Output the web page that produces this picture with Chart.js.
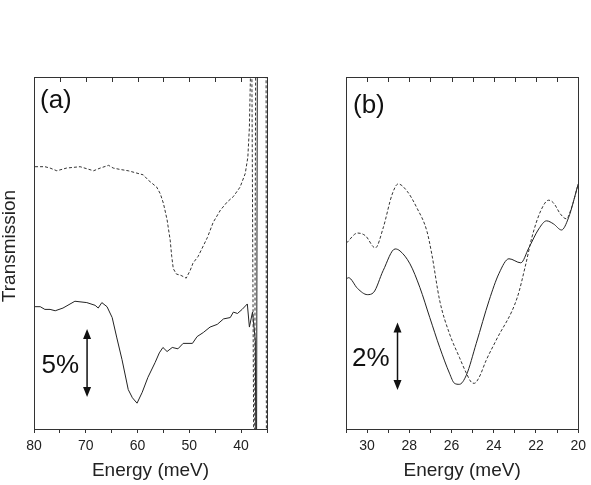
<!DOCTYPE html>
<html lang="en">
<head>
<meta charset="UTF-8">
<title>Transmission spectra</title>
<script src="https://cdn.jsdelivr.net/npm/chart.js@4"></script>
<style>
  html, body { margin: 0; padding: 0; background: #fff; }
  #wrap { position: relative; width: 591px; height: 485px; }
  canvas { position: absolute; top: 0; }
  #chartA { left: 0; }
  #chartB { left: 300px; }
</style>
</head>
<body>
<div id="wrap">
  <canvas id="chartA" width="300" height="485"></canvas>
  <canvas id="chartB" width="291" height="485"></canvas>
</div>
<script>
// panel (a): energy in meV, transmission in % (arbitrary offset)
const aDashE = [79.8, 77.9, 76.9, 75.6, 73.7, 71.1, 68.5, 67.2, 65.6, 64.7, 63.4, 61.8, 58.9, 57.9, 56.3, 55.6, 55.0, 54.3, 53.7, 53.4, 53.1, 52.5, 51.6, 50.6, 49.8, 49.3, 48.3, 46.5, 45.4, 44.0, 42.7, 41.5, 40.2, 39.2, 38.7, 38.4, 38.2, 38.1, 37.45, 37.1, 35.2, 35.1];
const aDashT = [19.3, 19.3, 19.2, 19.0, 19.2, 19.3, 19.0, 19.2, 19.4, 19.2, 19.1, 19.0, 18.7, 18.3, 17.8, 17.3, 16.6, 15.4, 13.9, 12.7, 11.8, 11.4, 11.3, 11.1, 11.7, 12.2, 12.7, 14.1, 15.2, 16.1, 16.7, 17.1, 17.8, 18.8, 20.0, 22.2, 25.9, 40, -10, 40, 40, -10];
const aSolE = [79.8, 78.8, 77.9, 76.9, 75.9, 74.4, 72.1, 69.8, 68.2, 67.6, 66.9, 65.9, 64.9, 64.0, 63.0, 61.8, 61.0, 60.1, 59.1, 58.0, 56.6, 55.8, 55.1, 54.3, 53.3, 52.2, 51.2, 49.4, 48.5, 47.3, 46.0, 44.6, 43.4, 42.1, 41.5, 40.7, 39.8, 38.8, 38.4, 37.8, 37.25, 37.06, 36.8, 35.0];
const aSolT = [9.0, 9.0, 8.8, 8.8, 8.7, 8.9, 9.4, 9.3, 9.1, 8.9, 9.3, 9.0, 8.2, 6.7, 5.1, 2.9, 2.3, 1.9, 2.7, 3.8, 4.9, 5.6, 6.0, 5.7, 6.0, 5.9, 6.3, 6.3, 6.8, 7.1, 7.5, 7.7, 8.1, 8.2, 8.6, 8.5, 8.8, 9.2, 7.5, 8.6, 6.5, -10, 40, 40];

// panel (b)
const bDashE = [30.97, 30.45, 30.08, 29.61, 29.24, 28.81, 28.53, 28.11, 27.64, 27.17, 26.94, 26.56, 26.10, 25.63, 25.30, 25.06, 24.92, 24.69, 24.36, 23.89, 22.89, 22.48, 22.20, 21.78, 21.40, 21.17, 20.84, 20.56, 20.32, 20.00];
const bDashT = [5.50, 5.79, 5.71, 5.35, 5.94, 6.94, 7.24, 7.03, 6.53, 5.85, 5.18, 3.79, 2.82, 2.12, 1.65, 1.38, 1.35, 1.53, 2.03, 2.62, 3.88, 4.88, 5.65, 6.44, 6.76, 6.68, 6.35, 6.21, 6.53, 7.24];
const bSolE = [30.97, 30.88, 30.45, 29.99, 29.70, 29.24, 28.67, 28.44, 27.97, 27.50, 27.03, 26.56, 26.10, 25.86, 25.63, 25.30, 24.83, 24.22, 23.75, 23.28, 22.72, 22.34, 21.87, 21.50, 21.17, 20.79, 20.46, 20.00];
const bSolT = [4.44, 4.47, 4.15, 3.97, 4.03, 4.68, 5.32, 5.26, 4.88, 4.18, 3.29, 2.41, 1.65, 1.35, 1.32, 1.59, 2.53, 3.8, 4.6, 5.03, 4.91, 5.35, 5.91, 6.15, 6.06, 5.88, 6.24, 7.24];

// tick labels
const aLabels = [80, 70, 60, 50, 40];
const bLabels = [30, 28, 26, 24, 22, 20];

const ink = '#222';
Chart.defaults.font.family = '"Liberation Sans", Arial, sans-serif';
Chart.defaults.color = ink;

const zip = (xs, ys) => xs.map((x, i) => ({ x: x, y: ys[i] }));

// panel letter, scale bar, inward top ticks and y title
const decor = {
  id: 'decor',
  afterDraw(chart, args, o) {
    const { ctx, chartArea, scales } = chart;
    ctx.save();

    // top frame ticks point into the plot, same positions as the bottom axis
    const sx = scales.x;
    ctx.strokeStyle = '#333';
    ctx.lineWidth = 1;
    ctx.beginPath();
    sx.ticks.forEach(tk => {
      const px = Math.round(sx.getPixelForValue(tk.value)) + 0.5;
      ctx.moveTo(px, chartArea.top);
      ctx.lineTo(px, chartArea.top + 5);
    });
    ctx.stroke();

    ctx.fillStyle = '#111';
    ctx.strokeStyle = '#111';
    ctx.textBaseline = 'middle';
    ctx.font = '26px "Liberation Sans", Arial, sans-serif';
    ctx.textAlign = 'left';
    ctx.fillText(o.letter, chartArea.left + o.letterDx, chartArea.top + o.letterDy);

    const bx = sx.getPixelForValue(o.bar.e);
    const top = scales.y.getPixelForValue(o.bar.hi);
    const bot = scales.y.getPixelForValue(o.bar.lo);
    ctx.lineWidth = 1.5;
    ctx.beginPath();
    ctx.moveTo(bx, top + 8);
    ctx.lineTo(bx, bot - 8);
    ctx.stroke();
    ctx.beginPath();
    ctx.moveTo(bx, top); ctx.lineTo(bx - 4, top + 10); ctx.lineTo(bx + 4, top + 10); ctx.closePath();
    ctx.moveTo(bx, bot); ctx.lineTo(bx - 4, bot - 10); ctx.lineTo(bx + 4, bot - 10); ctx.closePath();
    ctx.fill();
    ctx.textAlign = 'right';
    ctx.fillText(o.bar.text, bx - 8, (top + bot) / 2 + 3);

    if (o.ytitle) {
      ctx.fillStyle = ink;
      ctx.font = '19px "Liberation Sans", Arial, sans-serif';
      ctx.translate(10, 246);
      ctx.rotate(-Math.PI / 2);
      ctx.textAlign = 'center';
      ctx.fillText(o.ytitle, 0, 0);
    }
    ctx.restore();
  }
};

function panel(id, p) {
  const edge = { color: '#333', width: 1 };
  return new Chart(document.getElementById(id), {
    type: 'line',
    data: {
      datasets: [
        { data: p.dash, borderColor: '#333', borderWidth: 1, borderDash: [3, 2], pointRadius: 0, tension: p.tension, cubicInterpolationMode: p.mode },
        { data: p.solid, borderColor: ink, borderWidth: 1, pointRadius: 0, tension: p.tension, cubicInterpolationMode: p.mode }
      ]
    },
    options: {
      responsive: false,
      animation: false,
      layout: { padding: { left: p.left, right: p.right, top: 77, bottom: 0 } },
      plugins: { legend: { display: false }, tooltip: { enabled: false }, decor: p.decor },
      scales: {
        x: {
          type: 'linear', position: 'bottom', min: p.min, max: p.max, reverse: true,
          afterFit: s => { s.height = 56; },
          ticks: {
            stepSize: p.step, autoSkip: false, maxRotation: 0, padding: 5,
            font: { size: 14 },
            callback: v => p.labels.includes(v) ? String(v) : ''
          },
          grid: { drawOnChartArea: false, tickLength: 4, color: '#333' },
          border: edge,
          title: { display: true, text: 'Energy (meV)', font: { size: 19 }, padding: { top: 0, bottom: 3 } }
        },
        xTop: {
          type: 'linear', position: 'top', min: p.min, max: p.max, reverse: true,
          afterFit: s => { s.height = 0; },
          ticks: { display: false, stepSize: p.step },
          grid: { drawOnChartArea: false, drawTicks: false },
          border: edge
        },
        y: {
          position: 'left', min: 0, max: p.ymax,
          afterFit: s => { s.width = 0; },
          ticks: { display: false }, grid: { display: false }, border: edge
        },
        yRight: {
          position: 'right', min: 0, max: p.ymax,
          afterFit: s => { s.width = 0; },
          ticks: { display: false }, grid: { display: false }, border: edge
        }
      }
    },
    plugins: [decor]
  });
}

panel('chartA', {
  dash: zip(aDashE, aDashT), solid: zip(aSolE, aSolT),
  min: 35, max: 80, step: 5, labels: aLabels, ymax: 25.9,
  left: 34, right: 33, tension: 0, mode: 'default',
  decor: { letter: '(a)', letterDx: 6, letterDy: 24, ytitle: 'Transmission',
           bar: { e: 69.75, lo: 2.35, hi: 7.35, text: '5%' } }
});

panel('chartB', {
  dash: zip(bDashE, bDashT), solid: zip(bSolE, bSolT),
  min: 20, max: 31, step: 1, labels: bLabels, ymax: 10.4,
  left: 46, right: 11, tension: 0.4, mode: 'monotone',
  decor: { letter: '(b)', letterDx: 7, letterDy: 29,
           bar: { e: 28.56, lo: 1.15, hi: 3.15, text: '2%' } }
});
</script>
</body>
</html>
